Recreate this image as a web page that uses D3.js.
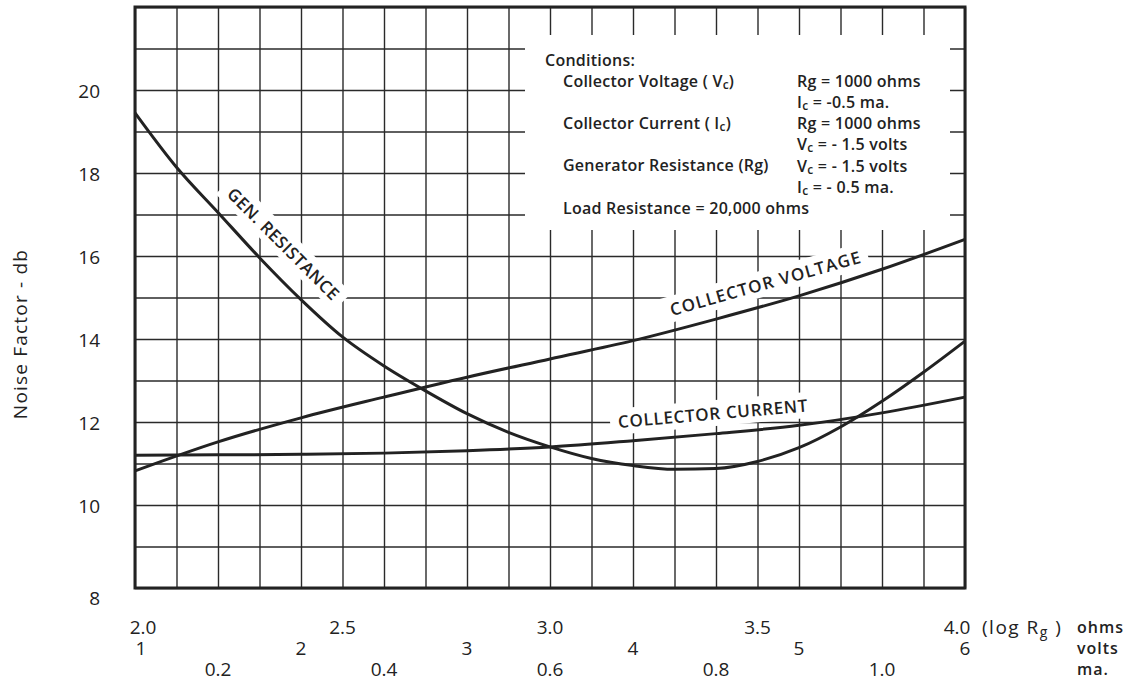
<!DOCTYPE html>
<meta charset="utf-8">
<style>
body { margin: 0; background: #fff; }
svg { display: block; font-family: "Open Sans", Lato, sans-serif; }
.grid line { stroke: #2a2a2a; stroke-width: 1.4px; }
.grid path { display: none; }
.curve { fill: none; stroke: #222; stroke-width: 3px; }
.frame { fill: none; stroke: #222; stroke-width: 3px; }
.tick-label { font-size: 19px; fill: #222; }
.cond { font-size: 16px; font-weight: 600; fill: #222; letter-spacing: 0.25px; }
.curve-label { font-size: 17px; font-weight: 600; fill: #222; }
</style>

<svg width="1148" height="682"></svg>

<script src="https://cdn.jsdelivr.net/npm/d3@7"></script>
<script>

// noise factor ticks (db)
var yTicks = [8, 10, 12, 14, 16, 18, 20];
// the three x scales share the same width
var logRgTicks = [2.0, 2.5, 3.0, 3.5, 4.0];
var voltTicks = [1, 2, 3, 4, 5, 6];
var maTicks = [0.2, 0.4, 0.6, 0.8, 1.0];

// GEN. RESISTANCE, x = log Rg
var genLogRg = [2.0, 2.1, 2.2, 2.3, 2.4, 2.5, 2.6, 2.7, 2.8, 2.9, 3.0, 3.1, 3.2, 3.3, 3.4, 3.5, 3.6, 3.7, 3.8, 3.9, 4.0];
var genNoise = [19.45, 18.14, 17.05, 15.96, 14.95, 14.05, 13.35, 12.75, 12.2, 11.75, 11.4, 11.12, 10.95, 10.86, 10.88, 11.05, 11.38, 11.88, 12.5, 13.2, 13.95];

// COLLECTOR VOLTAGE, x = volts
var voltVolts = [1.0, 1.5, 2.0, 2.5, 3.0, 3.5, 4.0, 4.5, 5.0, 5.5, 6.0];
var voltNoise = [10.82, 11.52, 12.1, 12.6, 13.08, 13.52, 13.96, 14.48, 15.04, 15.68, 16.4];

// COLLECTOR CURRENT, x = ma
var currMa = [0.1, 0.2, 0.3, 0.4, 0.5, 0.6, 0.7, 0.8, 0.9, 1.0, 1.1];
var currNoise = [11.2, 11.21, 11.22, 11.25, 11.31, 11.4, 11.55, 11.72, 11.92, 12.22, 12.6];

var svg = d3.select("svg");

// plot box (window.top is reserved, so prefixed names)
var pL = 135, pR = 965, pT = 7, pB = 588;

var x = d3.scaleLinear().domain([2, 4]).range([pL, pR]);
var xV = d3.scaleLinear().domain([1, 6]).range([pL, pR]);
var xI = d3.scaleLinear().domain([0.1, 1.1]).range([pL, pR]);
var y = d3.scaleLinear().domain([8, 22]).range([pB, pT]);

// grid
svg.append("g")
    .attr("class", "grid")
    .attr("transform", "translate(0," + pB + ")")
    .call(d3.axisBottom(x).tickValues(d3.range(2, 4.001, 0.1)).tickSize(-(pB - pT)).tickFormat(""));

svg.append("g")
    .attr("class", "grid")
    .attr("transform", "translate(" + pL + ",0)")
    .call(d3.axisLeft(y).tickValues(d3.range(8, 22.001, 1)).tickSize(-(pR - pL)).tickFormat(""));

// conditions box hides the grid
svg.append("rect")
    .attr("x", 525).attr("y", 35)
    .attr("width", 425).attr("height", 195)
    .attr("fill", "#fff");

var line = d3.line().curve(d3.curveMonotoneX);

function curvePath(xs, ys, sx) {
  return line(xs.map(function(v, i) { return [sx(v), y(ys[i])]; }));
}

// curve labels with white backing
var labels = [
  {text: "GEN. RESISTANCE", px: x(2.358), py: y(16.3), angle: 45, len: 150},
  {text: "COLLECTOR VOLTAGE", px: xV(4.795), py: y(15.35), angle: -15.7, len: 197},
  {text: "COLLECTOR CURRENT", px: xI(0.796), py: y(12.21), angle: -5, len: 190}
];

var lg = svg.selectAll("g.clabel")
    .data(labels)
    .enter().append("g")
    .attr("class", "clabel")
    .attr("transform", function(d) { return "translate(" + d.px + "," + d.py + ") rotate(" + d.angle + ")"; });

lg.append("rect")
    .attr("x", function(d) { return -d.len / 2 - 8; })
    .attr("y", -13)
    .attr("width", function(d) { return d.len + 16; })
    .attr("height", 26)
    .attr("fill", "#fff");

lg.append("text")
    .attr("class", "curve-label")
    .attr("text-anchor", "middle")
    .attr("dominant-baseline", "central")
    .attr("textLength", function(d) { return d.len; })
    .attr("lengthAdjust", "spacing")
    .text(function(d) { return d.text; });

var curves = svg.append("g");
curves.append("path").attr("class", "curve").attr("d", curvePath(genLogRg, genNoise, x));
curves.append("path").attr("class", "curve").attr("d", curvePath(voltVolts, voltNoise, xV));
curves.append("path").attr("class", "curve").attr("d", curvePath(currMa, currNoise, xI));

// frame
svg.append("rect")
    .attr("class", "frame")
    .attr("x", pL).attr("y", pT)
    .attr("width", pR - pL).attr("height", pB - pT);

// y tick labels
svg.append("g").selectAll("text")
    .data(yTicks)
    .enter().append("text")
    .attr("class", "tick-label")
    .attr("x", 100)
    .attr("y", function(d) { return y(d) + (d === 8 ? 10 : 1); })
    .attr("text-anchor", "end")
    .attr("dominant-baseline", "central")
    .text(function(d) { return d; });

svg.append("text")
    .attr("class", "tick-label")
    .attr("transform", "translate(20,334) rotate(-90)")
    .attr("text-anchor", "middle")
    .attr("dominant-baseline", "central")
    .style("font-size", "19px")
    .style("letter-spacing", "1.2px")
    .text("Noise Factor - db");

// x tick label rows
function endShift(d, arr) {
  if (d === arr[0]) return 8;
  if (d === arr[arr.length - 1]) return -8;
  return 0;
}

svg.append("g").selectAll("text")
    .data(logRgTicks)
    .enter().append("text")
    .attr("class", "tick-label")
    .attr("x", function(d) { return x(d) + endShift(d, logRgTicks); })
    .attr("y", 627)
    .attr("text-anchor", "middle")
    .attr("dominant-baseline", "central")
    .text(function(d) { return d.toFixed(1); });

svg.append("g").selectAll("text")
    .data(voltTicks)
    .enter().append("text")
    .attr("class", "tick-label")
    .attr("x", function(d) { return xV(d) + (d === 1 ? 6 : 0); })
    .attr("y", 648)
    .attr("text-anchor", "middle")
    .attr("dominant-baseline", "central")
    .text(function(d) { return d; });

svg.append("g").selectAll("text")
    .data(maTicks)
    .enter().append("text")
    .attr("class", "tick-label")
    .attr("x", function(d) { return xI(d); })
    .attr("y", 669)
    .attr("text-anchor", "middle")
    .attr("dominant-baseline", "central")
    .text(function(d) { return d.toFixed(1); });

var logLbl = svg.append("text")
    .attr("class", "tick-label")
    .attr("x", 982).attr("y", 627)
    .attr("dominant-baseline", "central")
    .style("letter-spacing", "1.5px");
logLbl.append("tspan").text("(log R");
logLbl.append("tspan").attr("dy", 4).style("font-size", "14px").text("g");
logLbl.append("tspan").attr("dy", -4).text(" )");

var units = ["ohms", "volts", "ma."];
svg.append("g").selectAll("text")
    .data(units)
    .enter().append("text")
    .attr("class", "tick-label")
    .attr("x", 1077)
    .attr("y", function(d, i) { return 627 + i * 21; })
    .attr("dominant-baseline", "central")
    .style("font-weight", "600")
    .style("font-size", "16px")
    .style("letter-spacing", "1px")
    .text(function(d) { return d; });

// conditions block, each line: [x, y, parts], parts flagged 1 are subscripts
var condLines = [
  [545, 60, [["Conditions:"]]],
  [563, 81, [["Collector Voltage ( V"], ["c", 1], [")"]]],
  [563, 123, [["Collector Current ( I"], ["c", 1], [")"]]],
  [563, 165, [["Generator Resistance (Rg)"]]],
  [563, 208, [["Load Resistance = 20,000 ohms"]]],
  [797, 81, [["Rg = 1000 ohms"]]],
  [797, 102, [["I"], ["c", 1], [" = -0.5 ma."]]],
  [797, 123, [["Rg = 1000 ohms"]]],
  [797, 144, [["V"], ["c", 1], [" = - 1.5 volts"]]],
  [797, 166, [["V"], ["c", 1], [" = - 1.5 volts"]]],
  [797, 187, [["I"], ["c", 1], [" = - 0.5 ma."]]]
];

var cond = svg.append("g");
condLines.forEach(function(c) {
  var t = cond.append("text")
      .attr("class", "cond")
      .attr("x", c[0]).attr("y", c[1])
      .attr("dominant-baseline", "central");
  var down = false;
  c[2].forEach(function(p) {
    var ts = t.append("tspan").text(p[0]);
    if (p[1]) { ts.attr("dy", 3).style("font-size", "12px"); down = true; }
    else if (down) { ts.attr("dy", -3); down = false; }
  });
});

</script>
